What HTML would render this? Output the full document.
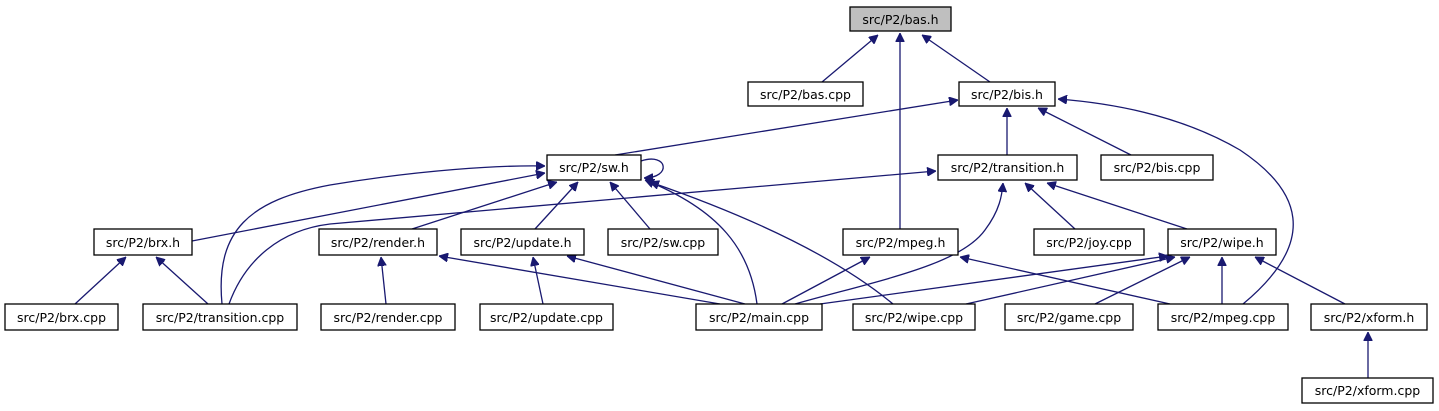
<!DOCTYPE html>
<html><head><meta charset="utf-8"><style>
html,body{margin:0;padding:0;background:#fff;}
svg{display:block;}
text{font-family:"DejaVu Sans","Liberation Sans",sans-serif;font-size:12.5px;fill:#000;}
.b{fill:#fff;stroke:#000;stroke-width:1.3;}
.e{fill:none;stroke:#191970;stroke-width:1.3;}
</style></head><body>
<svg width="1439" height="411" viewBox="0 0 1439 411" xmlns="http://www.w3.org/2000/svg">
<defs><marker id="a" viewBox="0 0 10 10" refX="10" refY="5" markerWidth="9" markerHeight="9" markerUnits="userSpaceOnUse" orient="auto"><path d="M0,0L10,5L0,10z" fill="#191970" stroke="#191970"/></marker></defs>
<g class="e" marker-end="url(#a)">
<path d="M822,82L878,35"/>
<path d="M990,82L922,35"/>
<path d="M900,229L900,33"/>
<path d="M615,155L958,100"/>
<path d="M1007,155L1007,108"/>
<path d="M1131,155L1038,108"/>
<path d="M1243,304C1320,240 1300,190 1240,150C1180,115 1110,103 1058,99"/>
<path d="M192,241L545,173"/>
<path d="M222,304C215,230 250,200 330,185C420,170 500,165 545,166"/>
<path d="M229,304C245,260 280,230 330,224L936,171"/>
<path d="M412,229L557,182"/>
<path d="M535,229L578,182"/>
<path d="M650,229L610,182"/>
<path d="M757,304C750,250 720,210 645,180"/>
<path d="M893,304C840,260 760,220 650,182"/>
<path d="M641,161C668,152 672,178 644,178"/>
<path d="M795,304C880,280 960,265 985,230C1000,210 1002,195 1003,183"/>
<path d="M1075,229L1025,183"/>
<path d="M1187,229L1047,183"/>
<path d="M720,304L439,256"/>
<path d="M745,304L567,256"/>
<path d="M543,304L533,257"/>
<path d="M386,304L381,257"/>
<path d="M75,304L126,257"/>
<path d="M208,304L156,257"/>
<path d="M782,304L870,257"/>
<path d="M1170,304L960,257"/>
<path d="M820,304L1168,256"/>
<path d="M966,304L1175,257"/>
<path d="M1095,304L1190,257"/>
<path d="M1222,304L1222,257"/>
<path d="M1345,304L1255,257"/>
<path d="M1368,378L1368,332"/>
</g>
<rect x="850" y="7" width="101" height="24" fill="#bfbfbf" stroke="#000" stroke-width="1.3"/><text x="900.5" y="24" text-anchor="middle">src/P2/bas.h</text>
<g>
<rect class="b" x="748" y="82" width="115" height="24"/><text x="805.5" y="99" text-anchor="middle">src/P2/bas.cpp</text>
<rect class="b" x="959" y="82" width="96" height="24"/><text x="1007" y="99" text-anchor="middle">src/P2/bis.h</text>
<rect class="b" x="547" y="155" width="94" height="25"/><text x="594" y="172" text-anchor="middle">src/P2/sw.h</text>
<rect class="b" x="938" y="155" width="139" height="25"/><text x="1007.5" y="172" text-anchor="middle">src/P2/transition.h</text>
<rect class="b" x="1101" y="155" width="112" height="25"/><text x="1157" y="172" text-anchor="middle">src/P2/bis.cpp</text>
<rect class="b" x="94" y="229" width="98" height="26"/><text x="143" y="247" text-anchor="middle">src/P2/brx.h</text>
<rect class="b" x="319" y="229" width="118" height="26"/><text x="378" y="247" text-anchor="middle">src/P2/render.h</text>
<rect class="b" x="461" y="229" width="123" height="26"/><text x="522.5" y="247" text-anchor="middle">src/P2/update.h</text>
<rect class="b" x="608" y="229" width="110" height="26"/><text x="663" y="247" text-anchor="middle">src/P2/sw.cpp</text>
<rect class="b" x="843" y="229" width="115" height="26"/><text x="900.5" y="247" text-anchor="middle">src/P2/mpeg.h</text>
<rect class="b" x="1034" y="229" width="110" height="26"/><text x="1089" y="247" text-anchor="middle">src/P2/joy.cpp</text>
<rect class="b" x="1168" y="229" width="108" height="26"/><text x="1222" y="247" text-anchor="middle">src/P2/wipe.h</text>
<rect class="b" x="5" y="304" width="113" height="26"/><text x="61.5" y="322" text-anchor="middle">src/P2/brx.cpp</text>
<rect class="b" x="143" y="304" width="154" height="26"/><text x="220" y="322" text-anchor="middle">src/P2/transition.cpp</text>
<rect class="b" x="321" y="304" width="134" height="26"/><text x="388" y="322" text-anchor="middle">src/P2/render.cpp</text>
<rect class="b" x="480" y="304" width="133" height="26"/><text x="546.5" y="322" text-anchor="middle">src/P2/update.cpp</text>
<rect class="b" x="696" y="304" width="126" height="26"/><text x="759" y="322" text-anchor="middle">src/P2/main.cpp</text>
<rect class="b" x="853" y="304" width="122" height="26"/><text x="914" y="322" text-anchor="middle">src/P2/wipe.cpp</text>
<rect class="b" x="1005" y="304" width="128" height="26"/><text x="1069" y="322" text-anchor="middle">src/P2/game.cpp</text>
<rect class="b" x="1158" y="304" width="130" height="26"/><text x="1223" y="322" text-anchor="middle">src/P2/mpeg.cpp</text>
<rect class="b" x="1311" y="304" width="116" height="26"/><text x="1369" y="322" text-anchor="middle">src/P2/xform.h</text>
<rect class="b" x="1302" y="378" width="131" height="25"/><text x="1367.5" y="395" text-anchor="middle">src/P2/xform.cpp</text>
</g>
</svg>
</body></html>
